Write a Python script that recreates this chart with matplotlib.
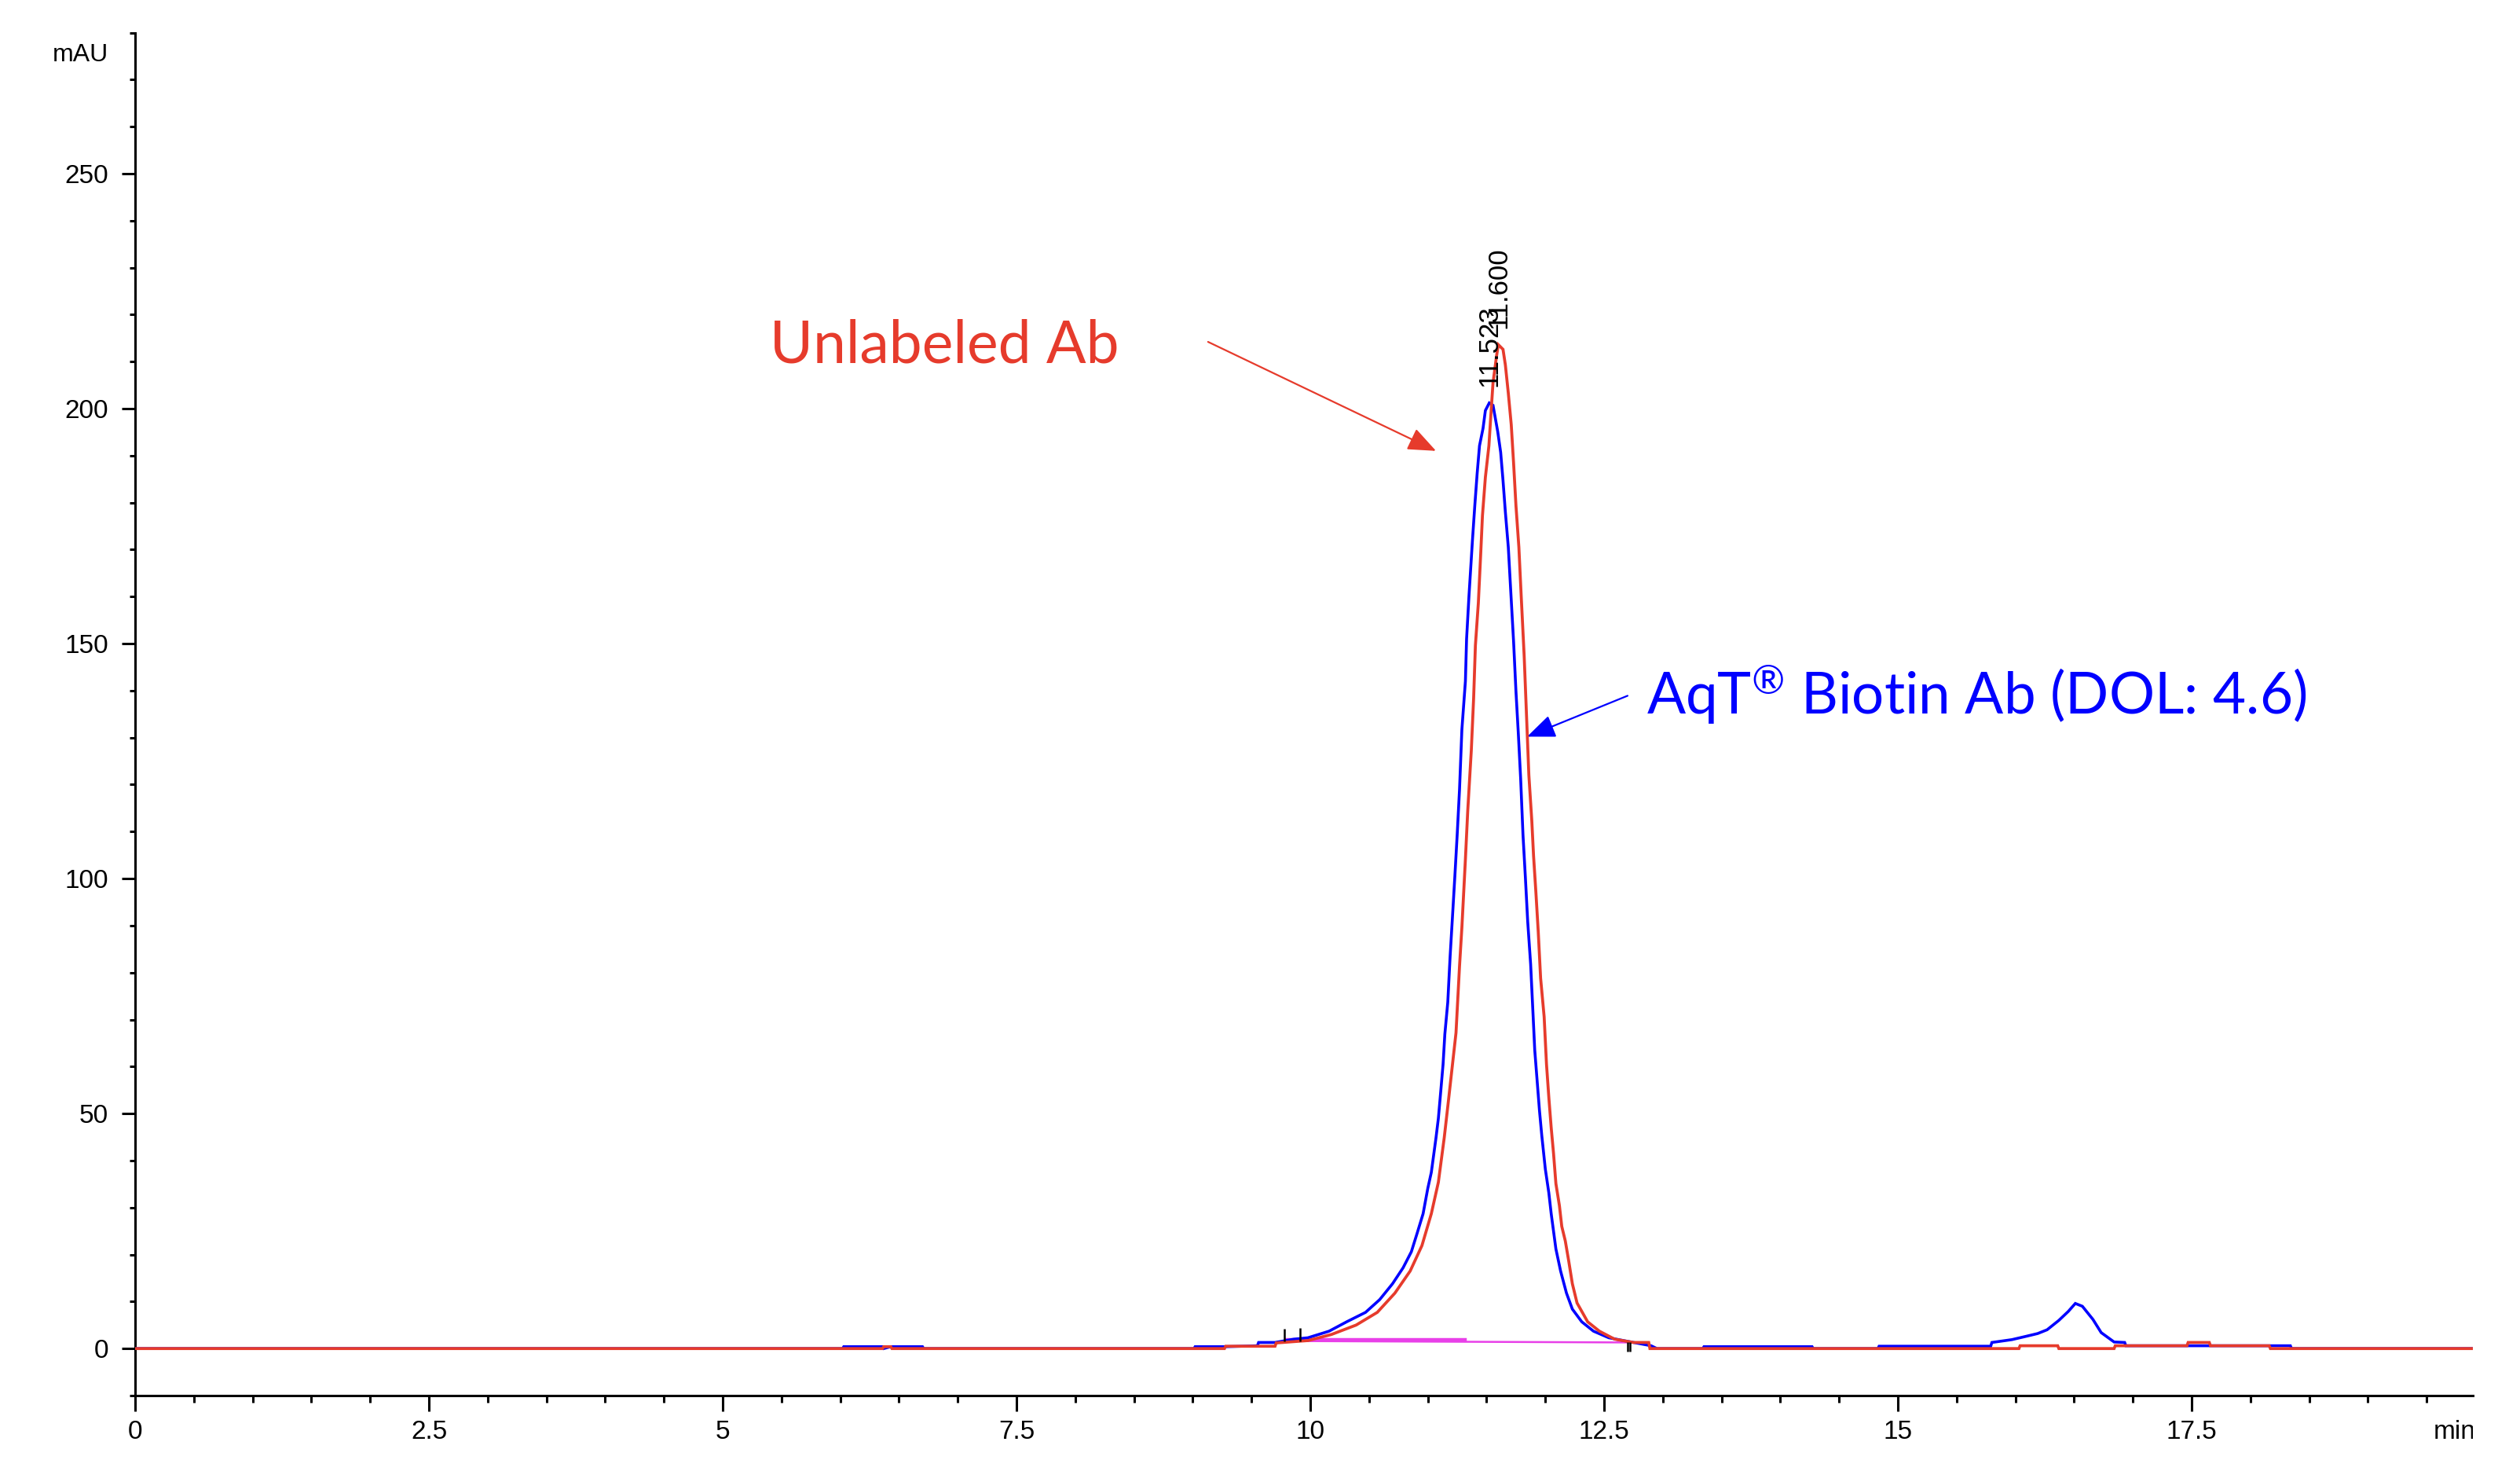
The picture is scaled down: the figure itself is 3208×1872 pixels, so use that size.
import matplotlib
matplotlib.use("Agg")
import matplotlib.pyplot as plt
from matplotlib.transforms import Bbox, TransformedBbox, ScaledTranslation
from matplotlib.ticker import MultipleLocator, FixedLocator, FixedFormatter

# ---------------- data ----------------
# AqT Biotin Ab (blue trace): retention time (min) / absorbance (mAU)
blue_t = [0.00, 6.02, 6.03, 6.36, 6.37, 6.43, 6.70, 6.71, 9.01, 9.02, 9.28, 9.55,
          9.56, 9.70, 9.86, 9.98, 10.16, 10.31, 10.47, 10.59, 10.70, 10.79, 10.86,
          10.91, 10.96, 11.00, 11.03, 11.05, 11.07, 11.09, 11.11, 11.13, 11.145,
          11.17, 11.19, 11.21, 11.23, 11.25, 11.27, 11.29, 11.32, 11.33, 11.35,
          11.38, 11.40, 11.42, 11.44, 11.47, 11.49, 11.523, 11.555, 11.595, 11.62,
          11.64, 11.66, 11.685, 11.71, 11.73, 11.75, 11.77, 11.79, 11.81, 11.83,
          11.85, 11.875, 11.895, 11.91, 11.93, 11.95, 11.97, 12.00, 12.03, 12.05,
          12.09, 12.13, 12.18, 12.23, 12.31, 12.41, 12.54, 12.75, 12.90, 12.95,
          13.34, 13.35, 14.27, 14.28, 14.83, 14.84, 15.79, 15.80, 15.97, 16.09,
          16.19, 16.27, 16.37, 16.45, 16.51, 16.57, 16.66, 16.73, 16.84, 16.93,
          16.94, 18.34, 18.35, 19.90]
blue_v = [0.0, 0.0, 0.4, 0.4, 0.0, 0.4, 0.4, 0.0, 0.0, 0.4, 0.4, 0.6,
          1.3, 1.3, 2.0, 2.3, 3.7, 5.7, 7.7, 10.4, 13.8, 17.2, 20.6,
          24.6, 28.7, 34.1, 37.5, 41.2, 44.9, 49.0, 54.7, 60.5, 66.9,
          73.7, 83.5, 91.9, 100.4, 109.3, 119.0, 131.7, 142.0, 151.0, 160.0,
          172.0, 179.4, 186.2, 192.1, 195.8, 199.6, 201.2, 200.7, 195.1, 190.7,
          184.7, 178.0, 170.5, 159.3, 150.4, 139.9, 131.0, 121.3, 109.3, 100.4,
          90.9, 81.8, 71.4, 63.5, 57.1, 50.7, 45.3, 38.2, 33.1, 28.7,
          21.2, 16.5, 11.8, 8.4, 5.7, 3.7, 2.3, 1.3, 0.6, 0.0,
          0.0, 0.4, 0.4, 0.0, 0.0, 0.5, 0.5, 1.3, 1.9, 2.6,
          3.2, 4.0, 6.0, 7.9, 9.6, 9.0, 6.2, 3.4, 1.4, 1.3,
          0.6, 0.6, 0.0, 0.0]

# Unlabeled Ab (red trace)
red_t = [0.00, 6.36, 6.37, 6.43, 6.44, 9.27, 9.28, 9.70, 9.71, 9.98, 10.18, 10.39,
         10.57, 10.72, 10.85, 10.95, 11.03, 11.09, 11.14, 11.18, 11.24, 11.27,
         11.29, 11.32, 11.34, 11.37, 11.39, 11.405, 11.43, 11.45, 11.465, 11.49,
         11.52, 11.535, 11.555, 11.585, 11.60, 11.64, 11.66, 11.685, 11.71, 11.73,
         11.75, 11.775, 11.795, 11.82, 11.84, 11.86, 11.885, 11.90, 11.92, 11.94,
         11.96, 11.99, 12.01, 12.03, 12.05, 12.07, 12.09, 12.12, 12.14, 12.17,
         12.20, 12.23, 12.27, 12.36, 12.46, 12.59, 12.75, 12.88, 12.89, 16.03,
         16.04, 16.36, 16.37, 16.84, 16.85, 17.46, 17.47, 17.65, 17.66, 18.16,
         18.17, 19.90]
red_v = [0.0, 0.0, 0.4, 0.4, 0.0, 0.0, 0.5, 0.5, 1.2, 1.7, 3.0, 5.0,
         7.7, 11.8, 16.5, 21.9, 28.7, 35.4, 44.9, 53.7, 67.2, 81.4,
         89.6, 104.1, 114.5, 127.2, 138.4, 149.6, 158.6, 169.0, 177.2, 185.4,
         192.1, 198.0, 205.5, 211.2, 213.6, 212.6, 209.3, 203.3, 196.6, 188.4,
         179.4, 170.5, 160.0, 147.4, 134.7, 122.0, 112.3, 104.8, 97.0, 88.6,
         78.8, 70.6, 60.5, 53.4, 47.0, 41.5, 35.1, 30.4, 26.0, 22.9,
         18.5, 13.8, 9.7, 5.7, 3.7, 2.0, 1.3, 1.3, 0.0, 0.0,
         0.6, 0.6, 0.0, 0.0, 0.6, 0.6, 1.3, 1.3, 0.6, 0.6,
         0.0, 0.0]

# integration baselines (magenta)
base1_t = [9.80, 11.32]
base1_v = [1.9, 1.9]
base2_t = [9.86, 12.71]
base2_v = [1.6, 1.3]
# integration event marks (black) : time, bottom, top
event_t = [9.78, 9.91, 12.70, 12.72]
event_lo = [1.5, 1.5, -0.6, -0.6]
event_hi = [4.2, 4.4, 1.4, 1.4]

# peak labels
peak_rt = [11.523, 11.600]
peak_h = [201.2, 213.6]
peak_labels = ["11.523", "11.600"]

# axis ticks
x_major = [0, 2.5, 5, 7.5, 10, 12.5, 15, 17.5]
x_labels = ["0", "2.5", "5", "7.5", "10", "12.5", "15", "17.5"]
y_major = [0, 50, 100, 150, 200, 250]
y_labels = ["0", "50", "100", "150", "200", "250"]

# annotations: text, text pos, arrow tail, arrow tip
red_label = "Unlabeled Ab"
red_text_xy = (5.40, 209.7)
red_arrow_from = (9.13, 214.2)
red_arrow_to = (11.07, 191.0)
blue_label = "AqT$^{\\mathrm{®}}$ Biotin Ab (DOL: 4.6)"
blue_text_xy = (12.86, 134.9)
blue_arrow_from = (12.70, 138.9)
blue_arrow_to = (11.845, 130.2)

# ---------------- style ----------------
RED = "#E63B2C"
BLUE = "#0000FF"
MAGENTA = "#E840E8"
plt.rcParams["font.family"] = ["Liberation Sans", "DejaVu Sans"]
plt.rcParams["mathtext.fontset"] = "custom"
plt.rcParams["mathtext.rm"] = "Lato"
plt.rcParams["mathtext.it"] = "Lato:italic"
plt.rcParams["mathtext.bf"] = "Lato:bold"

fig = plt.figure(figsize=(16.04, 9.36), dpi=200)
ax = fig.add_axes([0.05362, 0.05128, 0.92768, 0.92655])

ax.plot(blue_t, blue_v, color=BLUE, lw=1.3, solid_joinstyle="miter", zorder=3)
ax.plot(red_t, red_v, color=RED, lw=1.35, solid_joinstyle="miter", zorder=4)
ax.plot(base1_t, base1_v, color=MAGENTA, lw=1.6, zorder=2)
ax.plot(base2_t, base2_v, color=MAGENTA, lw=0.9, zorder=2)
ax.vlines(event_t, event_lo, event_hi, color="black", lw=0.9, zorder=5)

for rt, h, lab in zip(peak_rt, peak_h, peak_labels):
    ax.text(rt, h + 3.4, lab, rotation=90, ha="center", va="bottom",
            fontsize=12.5, color="black", zorder=6)

ax.set_xlim(0, 19.893)
ax.set_ylim(-10, 280)
for s in ("top", "right"):
    ax.spines[s].set_visible(False)
for s in ("left", "bottom"):
    ax.spines[s].set_linewidth(1.1)

ax.xaxis.set_major_locator(FixedLocator(x_major))
ax.xaxis.set_major_formatter(FixedFormatter(x_labels))
ax.xaxis.set_minor_locator(MultipleLocator(0.5))
ax.yaxis.set_major_locator(FixedLocator(y_major))
ax.yaxis.set_major_formatter(FixedFormatter(y_labels))
ax.yaxis.set_minor_locator(MultipleLocator(10))
ax.tick_params(axis="x", which="major", length=7.2, width=1.1, pad=4, labelsize=12)
ax.tick_params(axis="x", which="minor", length=3.2, width=1.1)
ax.tick_params(axis="y", which="major", length=6.1, width=1.1, pad=6.1, labelsize=12)
ax.tick_params(axis="y", which="minor", length=2.5, width=1.1)

# axis unit labels
ax.annotate("mAU", xy=(0, 275.2), xycoords=("axes fraction", "data"),
            xytext=(-12.2, 0), textcoords="offset points", ha="right", va="center",
            fontsize=11.5)
tr = ax.transAxes + ScaledTranslation(0, -11.2 / 72, fig.dpi_scale_trans)
tmin = ax.text(0.9832, 0, "min", transform=tr, ha="left", va="top", fontsize=12)
tmin.set_clip_box(TransformedBbox(Bbox([[-0.2, -0.5], [1.0, 1.5]]), ax.transAxes))
tmin.set_clip_on(True)

# annotations
ax.text(red_text_xy[0], red_text_xy[1], red_label, color=RED, fontsize=27,
        family="Lato", ha="left", va="baseline")
ax.annotate("", xy=red_arrow_to, xytext=red_arrow_from,
            arrowprops=dict(arrowstyle="-|>,head_length=1.1,head_width=0.45",
                            color=RED, lw=0.8, shrinkA=0, shrinkB=0, mutation_scale=10))
ax.text(blue_text_xy[0], blue_text_xy[1], blue_label, color=BLUE, fontsize=26.2,
        family="Lato", ha="left", va="baseline")
ax.annotate("", xy=blue_arrow_to, xytext=blue_arrow_from,
            arrowprops=dict(arrowstyle="-|>,head_length=1.1,head_width=0.45",
                            color=BLUE, lw=0.8, shrinkA=0, shrinkB=0, mutation_scale=10))

fig.savefig("out.png", dpi=200, facecolor="white")
